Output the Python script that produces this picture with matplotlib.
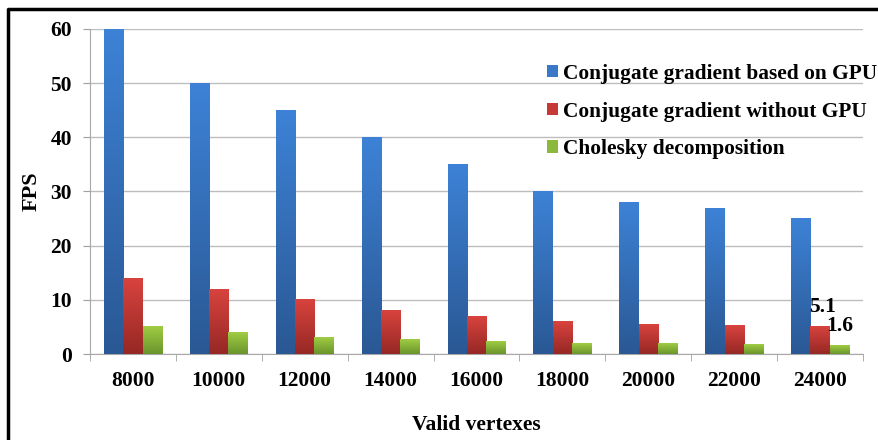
import numpy as np
import matplotlib
matplotlib.use("Agg")
import matplotlib.pyplot as plt
from matplotlib.colors import LinearSegmentedColormap
from matplotlib.lines import Line2D

plt.rcParams['font.family'] = ['Liberation Serif', 'DejaVu Serif']
plt.rcParams['font.weight'] = 'bold'

categories = ['8000', '10000', '12000', '14000', '16000', '18000', '20000', '22000', '24000']
gpu_cg = [60, 50, 45, 40, 35, 30, 28, 26.8, 25]
cpu_cg = [14, 12, 10, 8, 7, 6, 5.4, 5.2, 5.1]
cholesky = [5, 4, 3, 2.7, 2.3, 2.0, 1.85, 1.7, 1.6]
labels = ['Conjugate gradient based on GPU', 'Conjugate gradient without GPU', 'Cholesky decomposition']

# (top colour, bottom colour, legend colour)
colours = [('#3d82d6', '#2a5894', '#3a78c8'),
           ('#d8433e', '#962825', '#c53a37'),
           ('#a0cc44', '#6a952c', '#8cb83b')]

fs = 15.5

fig = plt.figure(figsize=(8.79, 4.40), dpi=100)
ax = fig.add_axes([90/879, 1-354/440, (863-90)/879, (354-29)/440])

x = np.arange(len(categories))
w = 0.225
series = [gpu_cg, cpu_cg, cholesky]
grad = np.linspace(0, 1, 100).reshape(-1, 1)
for k, vals in enumerate(series):
    top, bot, leg = colours[k]
    bars = ax.bar(x + (k-1)*w, vals, w, color=leg, label=labels[k], zorder=2)
    cmap = LinearSegmentedColormap.from_list('g%d' % k, [bot, top])
    for b in bars:
        ax.imshow(grad, extent=[b.get_x(), b.get_x()+b.get_width(), 0, b.get_height()],
                  origin='lower', cmap=cmap, aspect='auto', zorder=3)

ax.set_xlim(-0.5, len(categories)-0.5)
ax.set_ylim(0, 60)
ax.set_yticks(range(0, 61, 10))
ax.set_xticks(x)
ax.set_xticklabels(categories)
ax.set_xticks(np.arange(-0.5, len(categories), 1), minor=True)
ax.tick_params(axis='x', which='major', length=0, pad=12, labelsize=fs)
ax.tick_params(axis='x', which='minor', length=5, color='#a0a0a0', direction='out')
ax.tick_params(axis='y', length=5, color='#a0a0a0', pad=8, labelsize=fs)
ax.yaxis.grid(True, color='#bdbdbd', lw=1, zorder=0)
ax.set_axisbelow(True)
for s in ['top', 'right']:
    ax.spines[s].set_visible(False)
for s in ['left', 'bottom']:
    ax.spines[s].set_color('#a8a8a8')

ax.set_ylabel('FPS', fontsize=16, fontweight='bold')
ax.yaxis.set_label_coords(-0.063, 0.5)
ax.set_xlabel('Valid vertexes', fontsize=fs, fontweight='bold')
ax.xaxis.set_label_coords(0.5, -0.188)

# value labels on last group
ax.annotate('%.1f' % cpu_cg[-1], (x[-1], cpu_cg[-1]), xytext=(2, 7), textcoords='offset points',
            ha='center', va='bottom', fontsize=fs, fontweight='bold', zorder=5)
ax.annotate('%.1f' % cholesky[-1], (x[-1]+w, cholesky[-1]), xytext=(0, 7), textcoords='offset points',
            ha='center', va='bottom', fontsize=fs, fontweight='bold', zorder=5)

ax.legend(loc='upper left', bbox_to_anchor=(0.591, 0.893), frameon=False, fontsize=15.4,
          handlelength=0.52, handleheight=0.52, handletextpad=0.25, labelspacing=0.83,
          borderpad=0, borderaxespad=0)

# outer frame
fig.add_artist(Line2D([8/879, 8/879, 1], [0, 1-9/440, 1-9/440], color='black', lw=2.5))

fig.savefig('out.png', dpi=100)
